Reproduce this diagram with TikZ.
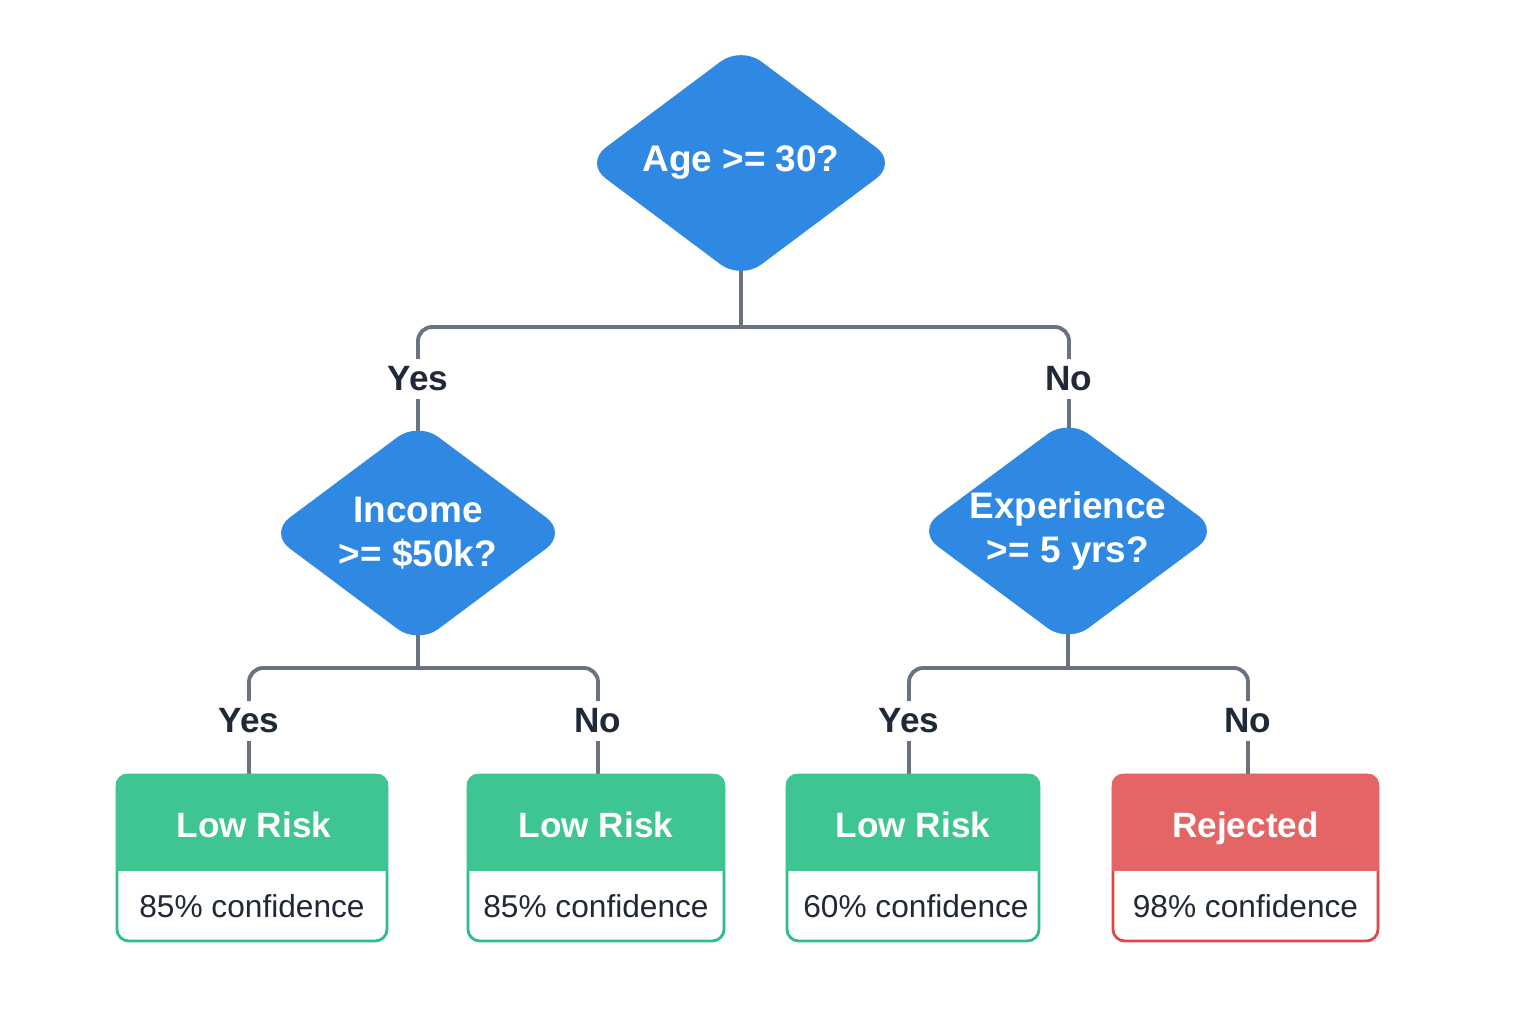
\documentclass[tikz,border=0pt]{standalone}
\usepackage{fontspec}
\setmainfont{Liberation Sans}
\usetikzlibrary{positioning,calc,shapes.geometric,backgrounds}
\definecolor{askblue}{RGB}{47,137,227}
\definecolor{greenfill}{RGB}{62,197,146}
\definecolor{greenrim}{RGB}{44,190,132}
\definecolor{redfill}{RGB}{227,101,101}
\definecolor{redrim}{RGB}{222,72,72}
\definecolor{linkgray}{RGB}{107,114,128}
\definecolor{inkdark}{RGB}{31,41,55}
\tikzset{font=\small}

\begin{document}
\begin{tikzpicture}[x=0.01cm, y=-0.01cm]
	\useasboundingbox (0,0) rectangle (1536,1024);
	\tikzstyle{every node}=[align=center, inner sep=1pt]
	\tikzstyle{ask}=[diamond, fill=askblue, draw=askblue, rounded corners=7pt, inner sep=-6pt, text=white, font=\bfseries\fontsize{10.5}{12.5}\selectfont]
	\tikzstyle{branch}=[inner sep=2pt, text=inkdark, font=\bfseries\fontsize{10}{12}\selectfont]
	\tikzstyle{leaf}=[rectangle, rounded corners=3.4pt, fill=white, line width=0.8pt, minimum height=1.66cm, inner sep=0pt]
	\tikzstyle{headtxt}=[anchor=base, text=white, font=\bfseries\fontsize{10}{12}\selectfont]
	\tikzstyle{notetxt}=[anchor=base, text=inkdark, font=\fontsize{9}{11}\selectfont]
	\tikzstyle{link}=[draw=linkgray, line width=1.1pt]

	% decisions
	\node[ask, minimum width=3.10cm, minimum height=2.32cm] (age) at (741,163) {Age >= 30?};
	\node[ask, minimum width=2.96cm, minimum height=2.21cm] (income) at (418,533) {Income\\>= \$50k?};
	\node[ask, minimum width=3.00cm, minimum height=2.23cm] (exper) at (1068,531) {Experience\\>= 5 yrs?};

	% branch labels
	\node[branch] (yesA) at (418,379) {Yes};
	\node[branch] (noA) at (1069,379) {No};
	\node[branch] (yesB) at (249,721) {Yes};
	\node[branch] (noB) at (598,721) {No};
	\node[branch] (yesC) at (909,721) {Yes};
	\node[branch] (noC) at (1248,721) {No};

	% leaves
	\node[leaf, draw=greenrim, minimum width=2.70cm] (leafA) at (252,858) {};
	\node[leaf, draw=greenrim, minimum width=2.56cm] (leafB) at (596,858) {};
	\node[leaf, draw=greenrim, minimum width=2.52cm] (leafC) at (913,858) {};
	\node[leaf, draw=redrim, minimum width=2.65cm] (leafD) at (1245.5,858) {};
	\foreach \l/\c in {leafA/greenfill, leafB/greenfill, leafC/greenfill, leafD/redfill} {
		\begin{scope}
			\clip[rounded corners=3.4pt] (\l.north west) rectangle (\l.south east);
			\fill[\c] (\l.north west) rectangle ($(\l.north east)+(0,97)$);
		\end{scope}
	}
	\node[headtxt] (headA) at (254,837) {Low Risk};
	\node[headtxt] (headB) at (596,837) {Low Risk};
	\node[headtxt] (headC) at (913,837) {Low Risk};
	\node[headtxt] (headD) at (1245.5,837) {Rejected};
	\node[notetxt] (noteA) at (252,917) {85\% confidence};
	\node[notetxt] (noteB) at (596,917) {85\% confidence};
	\node[notetxt] (noteC) at (916,917) {60\% confidence};
	\node[notetxt] (noteD) at (1245.5,917) {98\% confidence};

	% connectors
	\begin{scope}[on background layer]
		\coordinate (jA) at (741,327);
		\coordinate (jB) at (418,668);
		\coordinate (jC) at (1068,668);
		\draw[link] (age.center) -- (jA);
		\draw[link, rounded corners=4pt] (jA) -| (yesA.north);
		\draw[link, rounded corners=4pt] (jA) -| (noA.north);
		\draw[link] (yesA.south) -- (yesA.south |- income.center);
		\draw[link] (noA.south) -- (noA.south |- exper.center);
		\draw[link] (income.center) -- (jB);
		\draw[link, rounded corners=4pt] (jB) -| (yesB.north);
		\draw[link, rounded corners=4pt] (jB) -| (noB.north);
		\draw[link] (exper.center) -- (jC);
		\draw[link, rounded corners=4pt] (jC) -| (yesC.north);
		\draw[link, rounded corners=4pt] (jC) -| (noC.north);
		\draw[link] (yesB.south) -- (yesB.south |- leafA.north);
		\draw[link] (noB.south) -- (noB.south |- leafB.north);
		\draw[link] (yesC.south) -- (yesC.south |- leafC.north);
		\draw[link] (noC.south) -- (noC.south |- leafD.north);
	\end{scope}
\end{tikzpicture}
\end{document}
